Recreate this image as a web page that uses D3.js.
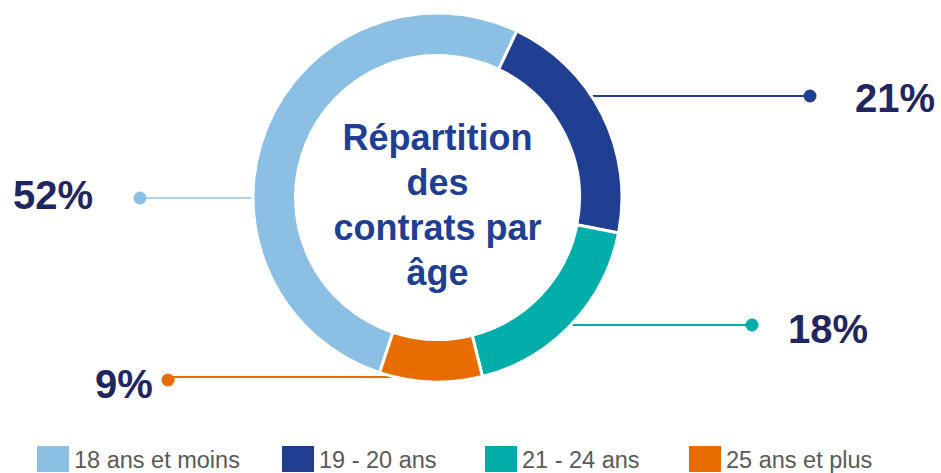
<!DOCTYPE html>
<html>
<head>
<meta charset="utf-8">
<script src="https://cdn.jsdelivr.net/npm/d3@7"></script>
<style>
	body { margin: 0; background: #fff; }
	svg { display: block; font-family: "Liberation Sans", Arial, sans-serif; }
</style>
</head>
<body>
<div id="donut"></div>
<script>
	const categories = ['18 ans et moins', '19 - 20 ans', '21 - 24 ans', '25 ans et plus'];
	const shares = [52, 21, 18, 9];
	const valueLabels = ['52%', '21%', '18%', '9%'];
	const titleLines = ['Répartition', 'des', 'contrats par', 'âge'];

	const colors = ['#8bbfe4', '#213f92', '#00ada9', '#e86c00'];
	const lineColors = ['#a9d0ec', '#213f92', '#00ada9', '#e86c00'];

	const width = 941, height = 473;
	const cx = 437.5, cy = 197.5, outerR = 184.5, innerR = 142;

	// leader line + label placement for each slice (same order as categories)
	const callouts = [
		{ lineY: 198, dotX: 140, dotY: 198, textX: 13, textY: 209, side: 'left' },
		{ lineY: 96, dotX: 810, dotY: 96, textX: 855, textY: 112, side: 'right' },
		{ lineY: 325, dotX: 752, dotY: 325, textX: 788, textY: 343, side: 'right' },
		{ lineY: 377, dotX: 168, dotY: 380, textX: 95, textY: 398, side: 'left' }
	];
	const legendX = [37, 282, 485, 689];

	const svg = d3.select('#donut')
		.append('svg')
		.attr('width', width)
		.attr('height', height);

	//Leader lines drawn first so the ring sits on top of them
	const calloutG = svg.append('g').attr('class', 'callouts');

	callouts.forEach((c, i) => {
		let dy = c.lineY - cy;
		let edge = Math.sqrt(outerR * outerR - dy * dy);
		let x2 = c.side === 'left' ? cx - edge + 2 : cx + edge - 2;
		calloutG.append('line')
			.attr('x1', c.dotX)
			.attr('y1', c.lineY)
			.attr('x2', x2)
			.attr('y2', c.lineY)
			.attr('stroke', lineColors[i])
			.attr('stroke-width', 2);
		calloutG.append('circle')
			.attr('cx', c.dotX)
			.attr('cy', c.dotY)
			.attr('r', 6.5)
			.attr('fill', i === 0 ? colors[i] : lineColors[i]);
		calloutG.append('text')
			.attr('x', c.textX)
			.attr('y', c.textY)
			.style('font-size', '40px')
			.style('font-weight', 'bold')
			.style('fill', '#1f2660')
			.text(valueLabels[i]);
	});

	//Donut ring
	const startDeg = 25.5 - shares[0] / 100 * 360;
	const pie = d3.pie()
		.sort(null)
		.value(d => d)
		.startAngle(startDeg * Math.PI / 180)
		.endAngle((startDeg + 360) * Math.PI / 180);

	const arc = d3.arc()
		.innerRadius(innerR)
		.outerRadius(outerR);

	svg.append('g')
		.attr('transform', `translate(${cx}, ${cy})`)
		.selectAll('path')
		.data(pie(shares))
		.enter()
		.append('path')
		.attr('d', arc)
		.style('fill', (d, i) => colors[i])
		.style('stroke', '#fff')
		.style('stroke-width', 3);

	//Centre title
	svg.append('g')
		.selectAll('text')
		.data(titleLines)
		.enter()
		.append('text')
		.attr('x', cx)
		.attr('y', (d, i) => 150 + i * 45)
		.attr('text-anchor', 'middle')
		.style('font-size', '36px')
		.style('font-weight', 'bold')
		.style('fill', '#213f92')
		.text(d => d);

	//Legend
	const legend = svg.append('g').attr('class', 'legend');
	categories.forEach((c, i) => {
		legend.append('rect')
			.attr('x', legendX[i])
			.attr('y', 446)
			.attr('width', 32)
			.attr('height', 26)
			.style('fill', colors[i]);
		legend.append('text')
			.attr('x', legendX[i] + 37)
			.attr('y', 468)
			.style('font-size', '23.5px')
			.style('fill', '#595959')
			.text(c);
	});
</script>
</body>
</html>
